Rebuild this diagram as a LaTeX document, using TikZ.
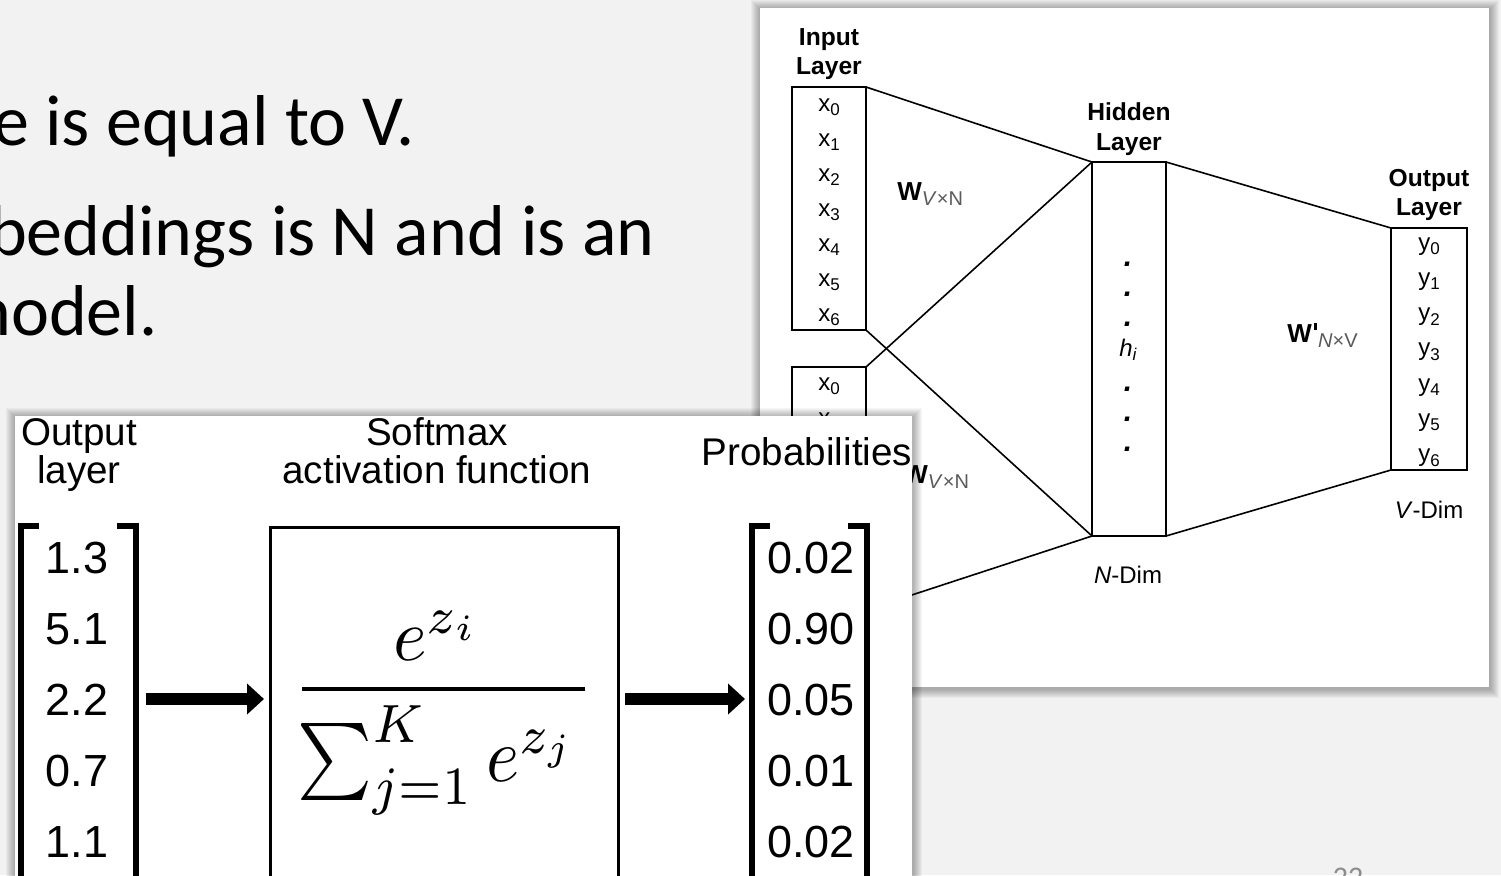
\documentclass[tikz,border=0pt]{standalone}
\usepackage{fontspec}
\setmainfont{Liberation Sans}
\newfontfamily\slidefont{Carlito}
\usepackage{graphicx}
\usetikzlibrary{arrows.meta}
\definecolor{slidebg}{HTML}{F2F2F2}
\definecolor{subgray}{HTML}{5A5A5A}
\definecolor{pagegray}{HTML}{8C8C8C}
\newcommand\subsc[1]{\raisebox{-2.2pt}{\fontsize{8.5}{10}\selectfont #1}}
\newcommand\wsub[1]{\raisebox{-2.5pt}{\fontsize{10}{11}\selectfont\color{subgray}#1}}
\newcommand\straightprime{\hspace{0.07em}\rule[0.45em]{0.12em}{0.28em}\hspace{0.05em}}
\newcommand\fuzzyshadow[4]{%
  \foreach \d in {1,...,9}{%
    \fill[black,opacity=0.035] ({#1-\d},{#2-\d+1}) rectangle ({#3+\d+1},{#4+\d+2});
  }}
\tikzset{
  slidetext/.style={font=\slidefont\fontsize{36}{42}\selectfont, inner sep=0pt, anchor=base east},
  pagenum/.style={font=\slidefont\fontsize{15}{18}\selectfont, text=pagegray, inner sep=0pt, anchor=base},
  layerlbl/.style={font=\bfseries\fontsize{12.3}{14}\selectfont, inner sep=0pt, anchor=base},
  cell/.style={font=\fontsize{12}{14}\selectfont, inner sep=0pt, anchor=base},
  dotlbl/.style={font=\bfseries\itshape\fontsize{15}{16}\selectfont, inner sep=0pt, anchor=base},
  dimlbl/.style={font=\fontsize{12}{14}\selectfont, inner sep=0pt, anchor=base},
  wlbl/.style={font=\fontsize{13}{15}\selectfont, inner sep=0pt, anchor=base west},
  vecbox/.style={draw, line width=0.8pt, inner sep=0pt, outer sep=0pt, anchor=north west},
  wire/.style={line width=0.8pt},
  smhead/.style={font=\fontsize{19.3}{22}\selectfont, inner sep=0pt, anchor=base},
  smnum/.style={font=\fontsize{22.5}{26}\selectfont, inner sep=0pt, anchor=base},
  bracketline/.style={line width=3pt, line join=miter, line cap=butt},
  smbox/.style={draw, line width=1.5pt, inner sep=0pt, outer sep=0pt, anchor=north west,
    minimum width=174pt, minimum height=200pt},
  fatarrow/.style={line width=6pt, -{Triangle[length=8.5pt,width=15pt]}},
  mathnode/.style={inner sep=0pt, anchor=base}
}
\begin{document}
\begin{tikzpicture}[x=0.5pt,y=-0.5pt]
\useasboundingbox (0,0) rectangle (1501,875);
\clip (0,0) rectangle (1501,875);
\fill[slidebg] (0,0) rectangle (1501,875);

% slide text
\node[slidetext] (t1) at (415,145) {e is equal to V.};
\node[slidetext] (t2) at (655,255) {beddings is N and is an};
\node[slidetext] (t3) at (158,335) {nodel.};
\node[pagenum] (pg) at (1348,887) {22};

% ---------- word2vec picture ----------
\fuzzyshadow{760}{8}{1489}{687}
\fill[white] (760,8) rectangle (1489,687);

\node[vecbox, minimum width=37pt, minimum height=121.5pt] (in1) at (792,87) {};
\node[vecbox, minimum width=37pt, minimum height=121.5pt] (in2) at (792,367) {};
\node[vecbox, minimum width=37pt, minimum height=187pt] (hid) at (1092,162) {};
\node[vecbox, minimum width=38pt, minimum height=121pt] (out) at (1391,228) {};

\draw[wire] (in1.north east) -- (hid.north west);
\draw[wire] (in1.south east) -- (hid.south west);
\draw[wire] (in2.north east) -- (hid.north west);
\draw[wire] (in2.south east) -- (hid.south west);
\draw[wire] (hid.north east) -- (out.north west);
\draw[wire] (hid.south east) -- (out.south west);

\node[layerlbl] (inA) at (829,45) {Input};
\node[layerlbl] (inB) at (829,74) {Layer};
\node[layerlbl] (hidA) at (1129,120) {Hidden};
\node[layerlbl] (hidB) at (1129,150) {Layer};
\node[layerlbl] (outA) at (1429,186) {Output};
\node[layerlbl] (outB) at (1429,215) {Layer};

\foreach \i in {0,...,6}{
  \node[cell] (xa\i) at (829,{111+35*\i}) {x\subsc{\i}};
  \node[cell] (yb\i) at (1429,{250+35.3*\i}) {y\subsc{\i}};
}
\node[cell] (xc0) at (829,390) {x\subsc{0}};
\node[cell] (xc1) at (829,425) {x\subsc{1}};

\foreach \yy [count=\k] in {266,296,326,391,421,451}
  \node[dotlbl] (hd\k) at (1128,\yy) {.};
\node[cell] (hi) at (1128,356) {\textit{h}\subsc{\textit{i}}};

\node[wlbl] (w1) at (897,200) {\textbf{W}\wsub{\textit{V}×N}};
\node[wlbl] (w2) at (903,483) {\textbf{W}\wsub{\textit{V}×N}};
\node[wlbl] (w3) at (1287,342) {\textbf{W\straightprime}\wsub{\textit{N}×V}};

\node[dimlbl] (nd) at (1128,583) {\textit{N}-Dim};
\node[dimlbl] (vd) at (1429,518) {\textit{V}-Dim};

% ---------- softmax picture ----------
\fuzzyshadow{15}{416}{912}{900}
\fill[white] (15,416) rectangle (912,900);

\node[smhead] (h1a) at (79,445) {Output};
\node[smhead] (h1b) at (79,483) {layer};
\node[smhead] (h2a) at (437,445) {Softmax};
\node[smhead] (h2b) at (437,483) {activation function};
\node[smhead] (h3) at (807,465) {Probabilities};

\draw[bracketline] (39,526) -- (20.5,526) -- (20.5,890);
\draw[bracketline] (117,526) -- (135.5,526) -- (135.5,890);
\draw[bracketline] (770,526) -- (751.5,526) -- (751.5,890);
\draw[bracketline] (848,526) -- (866.5,526) -- (866.5,890);

\foreach \v [count=\k] in {1.3,5.1,2.2,0.7,1.1}
  \node[smnum] (za\k) at (77,{502+71*\k}) {\v};
\foreach \v [count=\k] in {0.02,0.90,0.05,0.01,0.02}
  \node[smnum] (pb\k) at (811,{502+71*\k}) {\v};

\node[smbox] (fbox) at (270,527) {};
\node[mathnode] (numr) at (437,660) {\scalebox{3.6}[3.7]{$e^{z_i}$}};
\coordinate (barL) at (302,689);
\coordinate (barR) at (585,689);
\draw[line width=2pt] (barL) -- (barR);
\node[mathnode] (denr) at (437,781) {\scalebox{3.55}[3.85]{$\sum_{j=1}^{K} e^{z_j}$}};

\coordinate (a1s) at (146,699);
\coordinate (a1e) at (264,699);
\coordinate (a2s) at (625,699);
\coordinate (a2e) at (745,699);
\draw[fatarrow] (a1s) -- (a1e);
\draw[fatarrow] (a2s) -- (a2e);
\end{tikzpicture}
\end{document}
